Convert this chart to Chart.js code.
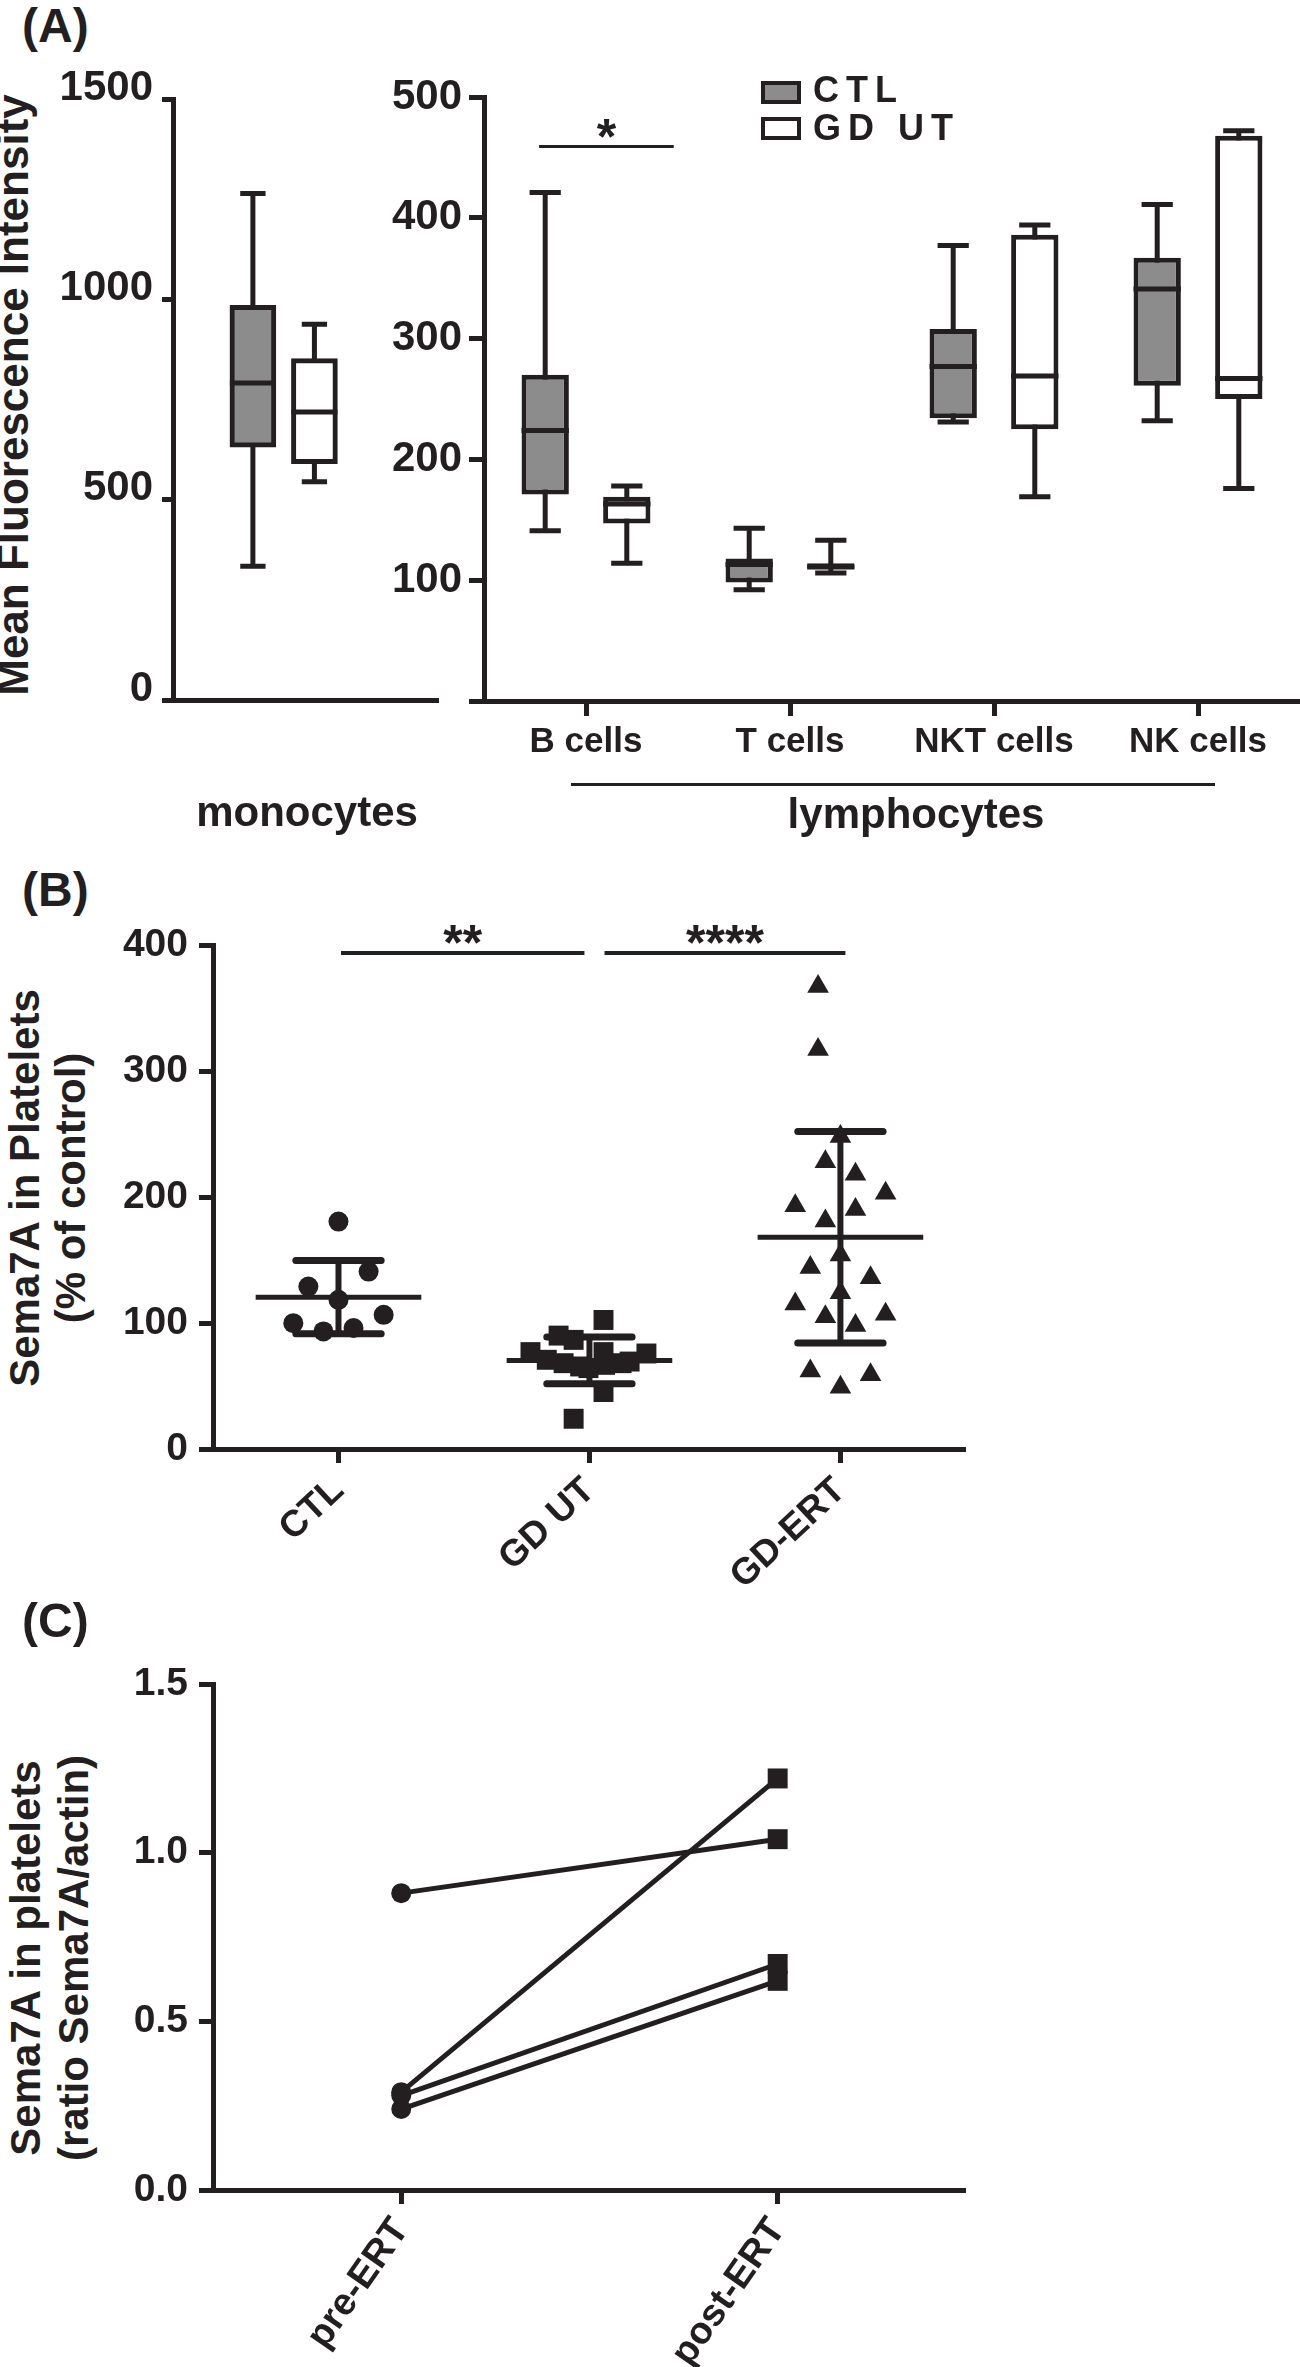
<!DOCTYPE html>
<html>
<head>
<meta charset="utf-8">
<title>Sema7A</title>
<script src="https://cdn.jsdelivr.net/npm/chart.js@4.4.1/dist/chart.umd.min.js"></script>
<style>
  body { margin: 0; background: #fff; }
  #page { position: relative; width: 1300px; height: 2367px; overflow: hidden;
          font-family: "Liberation Sans", Arial, sans-serif; font-weight: bold; color: #231f20; }
  #page canvas, .lbl { position: absolute; }
  .lbl { line-height: 1; white-space: nowrap; }
  .mid { transform: translate(-50%, -50%); text-align: center; }
  .rot { transform: translate(-50%, -50%) rotate(-90deg); text-align: center; }
  .key { position: absolute; width: 40px; height: 23px; box-sizing: border-box; border: 4px solid #231f20; }
</style>
</head>
<body>
<div id="page">
  <!-- panel A -->
  <div class="lbl" style="left:22px;top:2px;font-size:48px">(A)</div>
  <div class="lbl rot" style="left:13px;top:395px;font-size:44px">Mean Fluorescence Intensity</div>
  <canvas id="monoChart" width="410" height="700" style="left:40px;top:59px"></canvas>
  <canvas id="lymphChart" width="970" height="740" style="left:330px;top:60px"></canvas>
  <div class="key" style="left:761px;top:81px;background:#8c8c8c"></div>
  <div class="lbl" style="left:813px;top:72px;font-size:36px;letter-spacing:7px">CTL</div>
  <div class="key" style="left:761px;top:117px;background:#fff"></div>
  <div class="lbl" style="left:813px;top:110px;font-size:36px;letter-spacing:7px">GD UT</div>
  <div class="lbl mid" style="left:307px;top:812px;font-size:42px">monocytes</div>
  <div style="position:absolute;left:571px;top:783px;width:644px;height:3px;background:#231f20"></div>
  <div class="lbl mid" style="left:916px;top:814px;font-size:42px">lymphocytes</div>

  <!-- panel B -->
  <div class="lbl" style="left:22px;top:866px;font-size:48px">(B)</div>
  <div class="lbl rot" style="left:48px;top:1188px;font-size:42px;line-height:46px">Sema7A in Platelets<br>(% of control)</div>
  <canvas id="plateletChart" width="920" height="720" style="left:60px;top:880px"></canvas>

  <!-- panel C -->
  <div class="lbl" style="left:22px;top:1597px;font-size:48px">(C)</div>
  <div class="lbl rot" style="left:50px;top:1958px;font-size:42px;line-height:48px">Sema7A in platelets<br>(ratio Sema7A/actin)</div>
  <canvas id="ratioChart" width="920" height="727" style="left:60px;top:1640px"></canvas>
</div>

<script>
// ---- data ----

// (A) monocytes, box plots
const monoGroups = ['CTL', 'GD UT'];
const monoMin = [334, 545];
const monoQ1 = [631, 590];
const monoMedian = [791, 719];
const monoQ3 = [985, 852];
const monoMax = [1264, 938];
const monoTicks = [0, 500, 1000, 1500];

// (A) lymphocytes, box plots
const lymphCells = ['B cells', 'T cells', 'NKT cells', 'NK cells'];
const ctlMin = [141, 92, 231, 232];
const ctlQ1 = [171, 98, 234, 261];
const ctlMedian = [224, 113, 277, 341];
const ctlQ3 = [270, 118, 308, 367];
const ctlMax = [421, 143, 377, 411];
const gdMin = [114, 106, 169, 176];
const gdQ1 = [147, 110, 225, 250];
const gdMedian = [163, 111, 269, 267];
const gdQ3 = [169, 114, 386, 468];
const gdMax = [178, 133, 394, 472];
const lymphTicks = [0, 100, 200, 300, 400, 500];

// (B) Sema7A in platelets, % of control (jitter = horizontal spread in category units)
const plateletGroups = ['CTL', 'GD UT', 'GD-ERT'];
const ctlValues = [180.5, 140.8, 128.9, 118.4, 106.5, 99.9, 93.3, 96.0];
const ctlJitter = [0, 0.12, -0.12, 0, 0.18, -0.18, -0.06, 0.06];
const gdutValues = [102.4, 90.0, 86.6, 76.9, 76.9, 75.8, 70.8, 68.1, 68.1, 69.4, 65.5, 66.8, 64.2, 45.2, 24.0];
const gdutJitter = [0.056, -0.123, -0.063, -0.235, 0.056, 0.227, -0.17, -0.103, 0.128, 0.16, -0.037, 0.062, -0.004, 0.056, -0.063];
const ertValues = [367, 317, 248, 228, 218, 203, 193, 190, 181, 154, 144, 136, 124, 115, 107, 105, 98, 62, 59, 49];
const ertJitter = [-0.089, -0.089, 0, -0.06, 0.06, 0.18, -0.18, 0.06, -0.06, 0, -0.12, 0.12, 0, -0.18, 0.18, -0.06, 0.06, -0.12, 0.12, 0];
const plateletMean = [120.5, 70.3, 168];
const plateletSd = [29.1, 18.5, 83.9];
const plateletTicks = [0, 100, 200, 300, 400];

// (C) ratio Sema7A/actin, paired
const ertStages = ['pre-ERT', 'post-ERT'];
const preErt = [0.88, 0.29, 0.28, 0.24];
const postErt = [1.04, 1.22, 0.67, 0.62];
const ratioTicks = [0, 0.5, 1.0, 1.5];

// ---- style ----
const ink = '#231f20';
const grey = '#8c8c8c';
Chart.defaults.font.family = '"Liberation Sans", Arial, sans-serif';
Chart.defaults.font.weight = 'bold';
Chart.defaults.color = ink;
Chart.defaults.animation = false;
Chart.defaults.plugins.legend.display = false;
Chart.defaults.plugins.tooltip.enabled = false;

function yScale(ticks, o) {
  return {
    min: ticks[0], max: ticks[ticks.length - 1],
    afterBuildTicks: s => { s.ticks = ticks.map(v => ({ value: v })); },
    afterFit: s => { s.width = o.width; },
    ticks: { font: { size: o.font }, color: ink, padding: o.pad, labelOffset: o.offset || 0,
             callback: o.cb || (v => String(v)) },
    grid: { drawOnChartArea: false, tickLength: o.tick, tickWidth: 5, color: ink },
    border: { color: ink, width: 5 }
  };
}

// whiskers behind the boxes, medians on top
function drawBoxParts(chart, part, capRatio) {
  const ctx = chart.ctx, y = chart.scales.y;
  ctx.save();
  ctx.strokeStyle = ink;
  ctx.lineWidth = 5;
  chart.data.datasets.forEach((ds, i) => {
    chart.getDatasetMeta(i).data.forEach((bar, j) => {
      const half = bar.width / 2;
      ctx.beginPath();
      if (part === 'whisker') {
        const top = y.getPixelForValue(ds.whiskerMax[j]);
        const bot = y.getPixelForValue(ds.whiskerMin[j]);
        const cap = half * capRatio;
        ctx.moveTo(bar.x, top); ctx.lineTo(bar.x, bot);
        ctx.moveTo(bar.x - cap, top); ctx.lineTo(bar.x + cap, top);
        ctx.moveTo(bar.x - cap, bot); ctx.lineTo(bar.x + cap, bot);
      } else {
        const m = y.getPixelForValue(ds.median[j]);
        ctx.moveTo(bar.x - half, m); ctx.lineTo(bar.x + half, m);
      }
      ctx.stroke();
    });
  });
  ctx.restore();
}
function boxPlugin(capRatio) {
  return {
    id: 'boxWhiskers',
    beforeDatasetsDraw(chart) { drawBoxParts(chart, 'whisker', capRatio); },
    afterDatasetsDraw(chart) { drawBoxParts(chart, 'median', capRatio); }
  };
}

// significance bars with stars
function sigPlugin(bars, width) {
  return {
    id: 'sigBars',
    afterDatasetsDraw(chart) {
      const { ctx, scales: { x, y } } = chart;
      ctx.save();
      ctx.strokeStyle = ink; ctx.fillStyle = ink;
      ctx.lineWidth = width;
      ctx.font = 'bold 50px "Liberation Sans", Arial, sans-serif';
      ctx.textAlign = 'center';
      ctx.textBaseline = 'alphabetic';
      bars.forEach(b => {
        const x1 = x.getPixelForValue(b.from), x2 = x.getPixelForValue(b.to);
        const yy = y.getPixelForValue(b.value);
        ctx.beginPath(); ctx.moveTo(x1, yy); ctx.lineTo(x2, yy); ctx.stroke();
        ctx.fillText(b.text, (x1 + x2) / 2, yy + 7);
      });
      ctx.restore();
    }
  };
}

// mean +/- SD for the scatter groups
const meanSdPlugin = {
  id: 'meanSd',
  afterDatasetsDraw(chart) {
    const { ctx, scales: { x, y } } = chart;
    ctx.save();
    ctx.strokeStyle = ink;
    plateletGroups.forEach((g, i) => {
      const m = y.getPixelForValue(plateletMean[i]);
      const up = y.getPixelForValue(plateletMean[i] + plateletSd[i]);
      const lo = y.getPixelForValue(plateletMean[i] - plateletSd[i]);
      const cx = x.getPixelForValue(i);
      ctx.lineCap = 'butt';
      ctx.lineWidth = 6;
      ctx.beginPath(); ctx.moveTo(cx, up); ctx.lineTo(cx, lo); ctx.stroke();
      ctx.lineWidth = 5;
      ctx.beginPath(); ctx.moveTo(x.getPixelForValue(i - 0.33), m); ctx.lineTo(x.getPixelForValue(i + 0.33), m); ctx.stroke();
      ctx.lineCap = 'round';
      ctx.lineWidth = 7;
      [up, lo].forEach(p => {
        ctx.beginPath(); ctx.moveTo(x.getPixelForValue(i - 0.17), p); ctx.lineTo(x.getPixelForValue(i + 0.17), p); ctx.stroke();
      });
    });
    ctx.restore();
  }
};

// ---- (A) monocytes ----
new Chart(document.getElementById('monoChart'), {
  type: 'bar',
  data: {
    datasets: monoGroups.map((g, i) => ({
      label: g,
      data: [{ x: i, y: [monoQ1[i], monoQ3[i]] }],
      whiskerMin: [monoMin[i]], median: [monoMedian[i]], whiskerMax: [monoMax[i]],
      backgroundColor: i === 0 ? grey : '#fff',
      borderColor: ink, borderWidth: 5, borderSkipped: false,
      grouped: false, barThickness: 46
    }))
  },
  options: {
    responsive: false,
    layout: { padding: { top: 40, right: 12, left: 0, bottom: 0 } },
    scales: {
      x: {
        type: 'linear', min: -0.76, max: 2.47,
        afterFit: s => { s.height = 59; },
        ticks: { display: false },
        grid: { display: false },
        border: { color: ink, width: 5 }
      },
      y: yScale(monoTicks, { width: 133, font: 42, pad: 9, tick: 11, offset: -11 })
    }
  },
  plugins: [boxPlugin(0.55)]
});

// ---- (A) lymphocytes ----
new Chart(document.getElementById('lymphChart'), {
  type: 'bar',
  data: {
    labels: lymphCells,
    datasets: [
      { label: 'CTL', data: lymphCells.map((c, i) => [ctlQ1[i], ctlQ3[i]]),
        whiskerMin: ctlMin, median: ctlMedian, whiskerMax: ctlMax, backgroundColor: grey },
      { label: 'GD UT', data: lymphCells.map((c, i) => [gdQ1[i], gdQ3[i]]),
        whiskerMin: gdMin, median: gdMedian, whiskerMax: gdMax, backgroundColor: '#fff' }
    ].map(d => Object.assign(d, { borderColor: ink, borderWidth: 5, borderSkipped: false,
                                  categoryPercentage: 0.8, barPercentage: 0.58 }))
  },
  options: {
    responsive: false,
    layout: { padding: { top: 37, right: 0, left: 0, bottom: 0 } },
    scales: {
      x: {
        afterFit: s => { s.height = 99; },
        ticks: { font: { size: 35 }, color: ink, padding: 5, maxRotation: 0, autoSkip: false },
        grid: { drawOnChartArea: false, offset: false, tickLength: 15, tickWidth: 5, color: ink },
        border: { color: ink, width: 5 }
      },
      y: yScale(lymphTicks, { width: 154, font: 42, pad: 7, tick: 15, cb: v => (v === 0 ? '' : String(v)) })
    }
  },
  plugins: [boxPlugin(0.66), sigPlugin([{ from: -0.23, to: 0.43, value: 459, text: '*' }], 3)]
});

// ---- (B) platelets scatter ----
const scatterSets = [
  { values: ctlValues, jitter: ctlJitter, style: 'circle', radius: 10 },
  { values: gdutValues, jitter: gdutJitter, style: 'rect', radius: 14.1 },
  { values: ertValues, jitter: ertJitter, style: 'triangle', radius: 12.5 }
];
new Chart(document.getElementById('plateletChart'), {
  type: 'scatter',
  data: {
    datasets: scatterSets.map((s, i) => ({
      label: plateletGroups[i],
      data: s.values.map((v, k) => ({ x: i + s.jitter[k], y: v })),
      pointStyle: s.style, pointRadius: s.radius,
      backgroundColor: ink, borderColor: ink, borderWidth: 0
    }))
  },
  options: {
    responsive: false,
    layout: { padding: { top: 65, right: 11, left: 0, bottom: 0 } },
    scales: {
      x: {
        type: 'linear', min: -0.5, max: 2.5,
        afterBuildTicks: s => { s.ticks = plateletGroups.map((g, i) => ({ value: i })); },
        afterFit: s => { s.height = 151; },
        ticks: { font: { size: 37 }, color: ink, padding: 6, minRotation: 43, maxRotation: 43,
                 callback: v => plateletGroups[v] },
        grid: { drawOnChartArea: false, tickLength: 14, tickWidth: 5, color: ink },
        border: { color: ink, width: 5 }
      },
      y: yScale(plateletTicks, { width: 153, font: 39, pad: 11, tick: 14 })
    }
  },
  plugins: [meanSdPlugin, sigPlugin([
    { from: 0.01, to: 0.98, value: 393.6, text: '**' },
    { from: 1.06, to: 2.02, value: 393.6, text: '****' }
  ], 4)]
});

// ---- (C) pre/post ERT ----
new Chart(document.getElementById('ratioChart'), {
  type: 'line',
  data: {
    labels: ertStages,
    datasets: preErt.map((p, i) => ({
      label: 'patient ' + (i + 1),
      data: [p, postErt[i]],
      borderColor: ink, borderWidth: 5,
      pointStyle: ['circle', 'rect'], pointRadius: [10, 14.1],
      pointBackgroundColor: ink, pointBorderColor: ink, pointBorderWidth: 0
    }))
  },
  options: {
    responsive: false,
    layout: { padding: { top: 44, right: 8, left: 0, bottom: 0 } },
    scales: {
      x: {
        offset: true,
        afterFit: s => { s.height = 177; },
        ticks: { font: { size: 38 }, color: ink, padding: 6, minRotation: 55, maxRotation: 55 },
        grid: { drawOnChartArea: false, offset: false, tickLength: 14, tickWidth: 5, color: ink },
        border: { color: ink, width: 5 }
      },
      y: yScale(ratioTicks, { width: 153, font: 39, pad: 11, tick: 14, cb: v => v.toFixed(1) })
    }
  }
});
</script>
</body>
</html>
